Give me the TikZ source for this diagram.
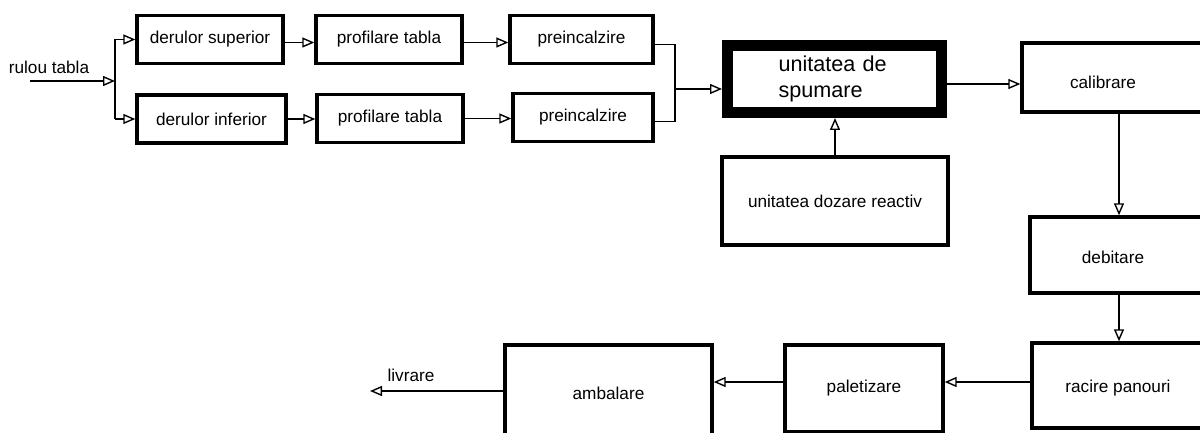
\documentclass[tikz,border=0pt]{standalone}
\usepackage{fontspec}
\setmainfont{Liberation Sans}
\usetikzlibrary{arrows.meta,calc}
\begin{document}
\begin{tikzpicture}[x=0.5pt,y=-0.5pt,
  box/.style={draw, line width=1.7pt, inner sep=0pt, font=\fontsize{8.6}{10}\selectfont},
  thickbox/.style={draw, line width=5.5pt, inner sep=0pt, font=\fontsize{10.8}{13}\selectfont},
  lbl/.style={inner sep=0pt, font=\fontsize{8.6}{10}\selectfont},
  conn/.style={line width=0.7pt},
  arr/.style={conn, -{Triangle[open,length=6pt,width=5pt]}}]
\useasboundingbox (0,0) rectangle (1200,433);
% coordinates for connector routing
\coordinate (inbeg) at (30,81);
\coordinate (sp) at (115,81);
\coordinate (mg) at (675,89);
\coordinate (calx) at (1119,0);
\coordinate (row3) at (0,382);
\coordinate (row3b) at (0,391);
\coordinate (livend) at (370,391);
% nodes
\node[lbl] (rulou) at (49,67) {rulou tabla};
\node[box, minimum width=73pt, minimum height=24pt] (dsup) at (210,39.5) {derulor superior};
\node[box, minimum width=74.5pt, minimum height=24pt] (dinf) at (211.5,119) {derulor inferior};
\node[box, minimum width=73pt, minimum height=24pt] (psup) at (389,39.5) {profilare tabla};
\node[box, minimum width=73pt, minimum height=24pt] (pinf) at (390,118.5) {profilare tabla};
\node[box, minimum width=71.5pt, minimum height=24pt] (isup) at (581.5,39.5) {preincalzire};
\node[box, minimum width=70pt, minimum height=24pt] (iinf) at (583,117.5) {preincalzire};
\node[thickbox, minimum width=107pt, minimum height=33.5pt, text width=56pt, align=left] (spum) at (834.5,79) {unitatea de\\spumare};
\node[box, minimum width=113pt, minimum height=44pt] (doz) at (835,201) {unitatea dozare reactiv};
\node[box, minimum width=119pt, minimum height=34.5pt] (cal) at (1141,77.5) {};
\node[lbl] (caltxt) at (1103,82) {calibrare};
\node[box, minimum width=115pt, minimum height=38pt] (deb) at (1145,255) {};
\node[lbl] (debtxt) at (1113,257) {debitare};
\node[box, minimum width=114pt, minimum height=42.5pt] (rac) at (1146,385.5) {};
\node[lbl] (ractxt) at (1118,388) {racire panouri};
\node[box, minimum width=79pt, minimum height=43.5pt] (pal) at (864,388.5) {paletizare};
\node[box, minimum width=103.5pt, minimum height=48pt] (amb) at (608.5,393) {ambalare};
\node[lbl] (livr) at (411,375) {livrare};
% connectors
\draw[arr] (inbeg) -- (sp);
\draw[conn] (sp |- dsup.west) -- (sp |- dinf.west);
\draw[arr] (sp |- dsup.west) -- (dsup.west);
\draw[arr] (sp |- dinf.west) -- (dinf.west);
\draw[arr] ([yshift=-1.5pt]dsup.east) -- ([yshift=-1.5pt]psup.west);
\draw[arr] (dinf.east) -- (dinf.east -| pinf.west);
\draw[arr] ([yshift=-1.5pt]psup.east) -- ([yshift=-1.5pt]isup.west);
\draw[arr] (pinf.east) -- (pinf.east -| iinf.west);
\draw[conn] ([yshift=-2.5pt]isup.east) -| (mg) |- ([yshift=-2pt]iinf.east);
\draw[arr] (mg) -- (mg -| spum.west);
\draw[arr] (doz.north) -- (doz.north |- spum.south);
\draw[arr] ([yshift=-2.5pt]spum.east) -- ([yshift=-2.5pt]spum.east -| cal.west);
\draw[arr] (cal.south -| calx) -- (deb.north -| calx);
\draw[arr] (deb.south -| calx) -- (rac.north -| calx);
\draw[arr] (rac.west |- row3) -- (pal.east |- row3);
\draw[arr] (pal.west |- row3) -- (amb.east |- row3);
\draw[arr] (amb.west |- row3b) -- (livend);
\end{tikzpicture}
\end{document}
